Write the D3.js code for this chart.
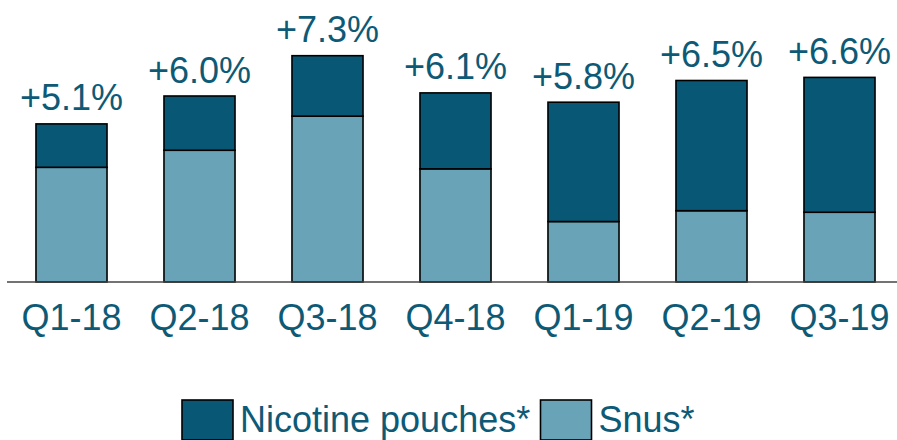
<!DOCTYPE html>
<html>
<head>
<meta charset="utf-8">
<script src="https://cdn.jsdelivr.net/npm/d3@7"></script>
<style>
  html, body { margin: 0; padding: 0; background: #fff; overflow: hidden; }
  svg { display: block; font-family: "Liberation Sans", Arial, sans-serif; }
</style>
</head>
<body>
<div id="chart"></div>
<script>
const quarters = ['Q1-18', 'Q2-18', 'Q3-18', 'Q4-18', 'Q1-19', 'Q2-19', 'Q3-19'];
const snus = [3.7, 4.25, 5.35, 3.65, 1.95, 2.3, 2.25];
const pouches = [1.4, 1.75, 1.95, 2.45, 3.85, 4.2, 4.35];
const growthLabels = ['+5.1%', '+6.0%', '+7.3%', '+6.1%', '+5.8%', '+6.5%', '+6.6%'];
const seriesNames = ['Nicotine pouches*', 'Snus*'];

const width = 897, height = 440;
const baseY = 282;
const dark = '#085875', light = '#68a3b7', textCol = '#0d5a77';

const svg = d3.select('#chart').append('svg')
    .attr('width', width)
    .attr('height', height);

const x = d3.scaleBand()
    .domain(quarters)
    .range([7.5, 903.5])
    .paddingInner(0.445)
    .paddingOuter(0.2225);

const y = d3.scaleLinear()
    .domain([0, 8])
    .range([baseY, baseY - 31 * 8]);

const rows = quarters.map((q, i) => ({ q, snus: snus[i], pouches: pouches[i], label: growthLabels[i] }));
const stack = d3.stack().keys(['snus', 'pouches'])(rows);
const colors = { snus: light, pouches: dark };

// bars
svg.append('g')
    .selectAll('g')
    .data(stack)
    .join('g')
    .attr('fill', d => colors[d.key])
    .selectAll('rect')
    .data(d => d)
    .join('rect')
    .attr('x', d => x(d.data.q))
    .attr('y', d => y(d[1]))
    .attr('width', x.bandwidth())
    .attr('height', d => y(d[0]) - y(d[1]))
    .attr('stroke', '#000')
    .attr('stroke-width', 1.6);

// baseline
svg.append('line')
    .attr('x1', 7).attr('x2', width)
    .attr('y1', baseY).attr('y2', baseY)
    .attr('stroke', '#444')
    .attr('stroke-width', 1.5);

// growth labels
svg.append('g')
    .selectAll('text')
    .data(rows)
    .join('text')
    .attr('x', d => x(d.q) + x.bandwidth() / 2)
    .attr('y', d => y(d.snus + d.pouches) - 13.5)
    .attr('text-anchor', 'middle')
    .attr('fill', textCol)
    .style('font-size', '36px')
    .text(d => d.label);

// x axis labels
const xAxis = svg.append('g')
    .attr('transform', `translate(0,${baseY})`)
    .call(d3.axisBottom(x).tickSize(0).tickPadding(0));
xAxis.select('.domain').remove();
xAxis.selectAll('text')
    .attr('dy', null)
    .attr('y', 48)
    .attr('fill', textCol)
    .style('font-size', '36px')
    .style('font-family', '"Liberation Sans", Arial, sans-serif');

// legend
const legendItems = [
    { name: seriesNames[0], color: dark, x: 182 },
    { name: seriesNames[1], color: light, x: 540.5 }
];
const lg = svg.append('g')
    .selectAll('g')
    .data(legendItems)
    .join('g')
    .attr('transform', d => `translate(${d.x},400)`);
lg.append('rect')
    .attr('width', 51)
    .attr('height', 40)
    .attr('fill', d => d.color)
    .attr('stroke', '#000')
    .attr('stroke-width', 1.6);
lg.append('text')
    .attr('x', 58)
    .attr('y', 32)
    .attr('fill', textCol)
    .style('font-size', '36px')
    .text(d => d.name);
</script>
</body>
</html>
